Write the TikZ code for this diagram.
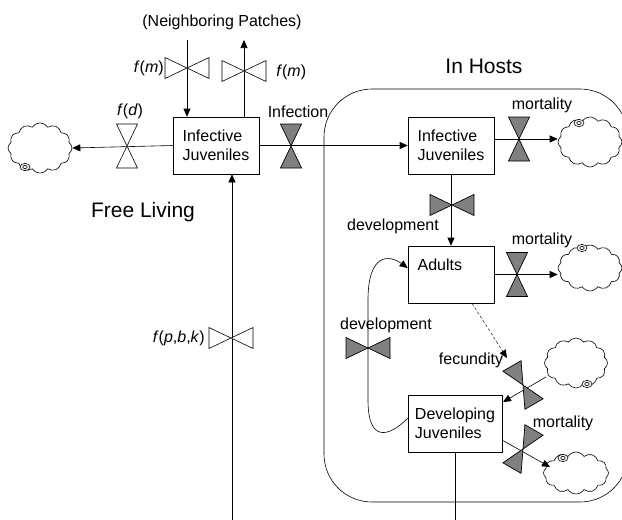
\documentclass[tikz,border=0pt]{standalone}
\usepackage{fontspec}
\setmainfont{Liberation Sans}
\usepackage{tikz}
\usetikzlibrary{
  positioning,
  shapes.symbols,
  arrows.meta,
  arrows
}
\definecolor{valvegray}{RGB}{128,128,128}
\tikzset{
  stock/.style={draw,fill=white,align=left,inner sep=0pt},
  sink/.style={cloud,draw,fill=white,cloud puffs=12,cloud puff arc=115,aspect=1.3,inner sep=0pt},
  pics/valve/.style={code={
    \draw[pic actions] (-10.5,-22) -- (10.5,-22) -- (-10.5,22) -- (10.5,22) -- cycle;
  }},
  hostvalve/.style={fill=valvegray,line width=0.7pt},
  freevalve/.style={fill=white},
  flow/.style={-{Triangle[length=8pt,width=7pt]}},
  lbl/.style={inner sep=1pt}
}
\newcommand{\swirl}[1]{%
  \draw[fill=white] #1 ellipse (5 and 3.6);
  \draw #1 ellipse (2.2 and 1.6);
}

\begin{document}
\begin{tikzpicture}[x=1pt,y=-1pt,font=\fontsize{16}{19}\selectfont,line width=0.6pt]
		\useasboundingbox (0,0) rectangle (622,520);
		% host compartment
		\draw [rounded corners=48pt] (324,89) rectangle (628,502);
		\node [font=\fontsize{21}{24}\selectfont] (hosts) at (484,66) {In Hosts};
		\node [font=\fontsize{21}{24}\selectfont] (free) at (143,212) {Free Living};
		\node (patches) at (222,22) {(Neighboring Patches)};
		% stocks
		\node [stock,minimum width=86pt,minimum height=57pt] (fij) at (216,145.5) {Infective\\Juveniles};
		\node [stock,minimum width=86pt,minimum height=57pt] (hij) at (451,145.5) {Infective\\Juveniles};
		\node [stock,minimum width=86pt,minimum height=57pt] (adu) at (451,274.5) {Adults\\\phantom{Juveniles}};
		\node [stock,minimum width=94pt,minimum height=57pt] (dju) at (455,423.5) {Developing\\Juveniles};
		% sinks and sources
		\node [sink,minimum width=64pt,minimum height=50pt] (c1) at (40,148) {};
		\node [sink,minimum width=64pt,minimum height=50pt] (c2) at (590,142) {};
		\node [sink,minimum width=64pt,minimum height=46pt] (c3) at (590,268) {};
		\node [sink,minimum width=63pt,minimum height=50pt] (c4) at (576,363) {};
		\node [sink,minimum width=65pt,minimum height=42pt] (c5) at (576,473) {};
		\swirl{(25,167)}
		\swirl{(579,123)}
		\swirl{(582,248)}
		\swirl{(587,384)}
		\swirl{(563,458)}
		% free living flows
		\coordinate (nin) at (187,40);
		\coordinate (nout) at (244,40);
		\coordinate (bot) at (232,520);
		\draw [flow] (nin) -- (nin |- fij.north);
		\draw [flow] (nout |- fij.north) -- (nout);
		\draw [flow] (bot) -- (bot |- fij.south);
		\draw [flow] (fij.west) -- (c1.east);
		\draw [flow] (fij.east) -- (hij.west);
		\pic [freevalve,rotate=90] (vm1) at (187,68) {valve};
		\pic [freevalve,rotate=90] (vm2) at (244,71) {valve};
		\pic [freevalve] (vd) at (127,146) {valve};
		\pic [freevalve,rotate=90] (vb) at (231,338) {valve};
		\pic [hostvalve] (vi) at (291,146) {valve};
		\node [lbl,anchor=east] (lm1) at (165,68) {\textit{f}(\textit{m})};
		\node [lbl,anchor=west] (lm2) at (275,72) {\textit{f}(\textit{m})};
		\node [lbl] (ld) at (130,111) {\textit{f}(\textit{d})};
		\node [lbl,anchor=east] (lb) at (206,338) {\textit{f}(\textit{p},\textit{b},\textit{k})};
		\node [lbl] (li) at (298,112) {Infection};
		% host flows
		\draw [flow] (hij.east |- 0,139) -- (c2.west |- 0,139);
		\draw [flow] (hij.south) -- (adu.north);
		\draw [flow] (adu.east) -- (c3.west |- adu.east);
		\coordinate (fin) at (546,377);
		\coordinate (fout) at (503,402);
		\coordinate (dout) at (502,440);
		\coordinate (dend) at (550,467);
		\coordinate (fec) at (507,358);
		\coordinate (dbot) at (455,520);
		\draw [flow] (fin) -- (fout);
		\draw [flow] (dout) -- (dend);
		\draw [flow,dash pattern=on 3pt off 2pt,line width=0.4pt] (adu.south -| 472,0) -- (fec);
		\draw (dju.south) -- (dbot);
		\draw [flow] (408,418) .. controls (388,438) and (368,442) .. (368,400) -- (368,300) .. controls (368,252) and (390,255) .. (adu.west |- 0,268);
		\pic [hostvalve] (vmo1) at (519,139) {valve};
		\pic [hostvalve] (vmo2) at (517,274.5) {valve};
		\pic [hostvalve,rotate=90] (vdv1) at (452,205) {valve};
		\pic [hostvalve,rotate=90] (vdv2) at (368,348) {valve};
		\pic [hostvalve,rotate=30] (vfe) at (523,385) {valve};
		\pic [hostvalve,rotate=-30] (vmo3) at (523,449) {valve};
		\node [lbl] (lmo1) at (542,105) {mortality};
		\node [lbl] (lmo2) at (542,240) {mortality};
		\node [lbl] (lmo3) at (563,423) {mortality};
		\node [lbl] (ldv1) at (393,226) {development};
		\node [lbl] (ldv2) at (386,325) {development};
		\node [lbl] (lfe) at (471,360) {fecundity};
	\end{tikzpicture}
\end{document}
